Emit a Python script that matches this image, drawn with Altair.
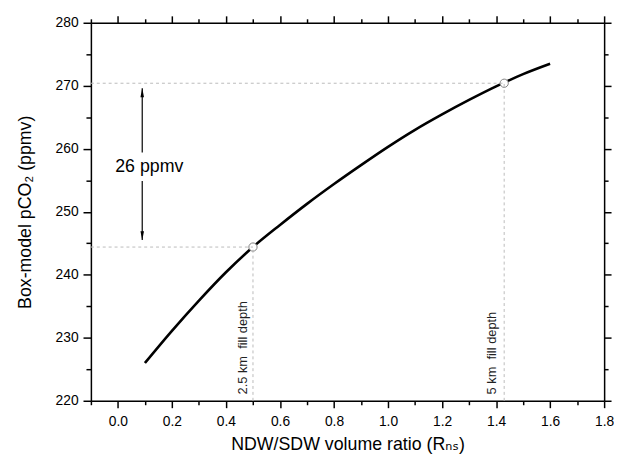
import altair as alt
import pandas as pd

FONT = "Liberation Sans, Arial, DejaVu Sans"

# Curve: NDW/SDW volume ratio vs box-model pCO2
ratio = [0.1, 0.2, 0.3, 0.4, 0.5, 0.6, 0.7, 0.8, 0.9, 1.0, 1.1, 1.2, 1.3, 1.4, 1.5, 1.6]
pco2 = [226.0, 231.1, 235.9, 240.4, 244.4, 247.9, 251.25, 254.4, 257.4, 260.3,
        263.0, 265.45, 267.75, 269.9, 271.85, 273.5]

# Marked fill-depth points
fill_x = [0.5, 1.43]
fill_y = [244.4, 270.4]
fill_labels = ["2.5 km\u00a0 fill depth", "5 km\u00a0 fill depth"]
fill_label_x = [0.463, 1.384]
fill_label_y = [221.0, 221.0]

# Double arrow annotation (26 ppmv)
arrow_x = [0.09]
arrow_lo = [245.5, 259.4]
arrow_hi = [254.9, 269.6]
arrow_text = ["26 ppmv"]
arrow_text_x = [-0.01]
arrow_text_y = [257.1]

# Axes
x_domain = [-0.1, 1.8]
y_domain = [220, 280]
x_ticks = [-0.1, 0.0, 0.1, 0.2, 0.3, 0.4, 0.5, 0.6, 0.7, 0.8, 0.9, 1.0,
           1.1, 1.2, 1.3, 1.4, 1.5, 1.6, 1.7, 1.8]
y_ticks = [220, 225, 230, 235, 240, 245, 250, 255, 260, 265, 270, 275, 280]

W, H = 520, 383

x_major = "abs(round(datum.value*10)) % 2 === 0"
y_major = "datum.value % 10 === 0"

xs = alt.Scale(domain=x_domain, nice=False, zero=False)
ys = alt.Scale(domain=y_domain, nice=False, zero=False)

common = dict(domainColor="black", domainWidth=1.5, tickColor="black", tickWidth=1.5,
              grid=False, labelFont=FONT, labelFontSize=14, labelColor="black",
              titleFont=FONT, titleFontSize=18, titleFontWeight="normal", titleColor="black")

x_bottom = alt.Axis(orient="bottom", values=x_ticks,
                    labelExpr=f"{x_major} ? format(datum.value, '.1f') : ''",
                    tickSize={"condition": {"test": x_major, "value": 7}, "value": 4},
                    labelPadding=7, title="NDW/SDW volume ratio (R\u2099\u209b)",
                    titleX=W / 2, titleY=49, titleBaseline="alphabetic", titleAlign="center",
                    labelFlush=False, labelOverlap=False, **common)
y_left = alt.Axis(orient="left", values=y_ticks,
                  labelExpr=f"{y_major} ? datum.label : ''",
                  tickSize={"condition": {"test": y_major, "value": 8}, "value": 5},
                  labelPadding=5, title="Box-model pCO\u2082 (ppmv)",
                  titleX=-66, titleY=H / 2, titleAngle=270, titleAlign="center",
                  titleBaseline="middle", labelFlush=False, labelOverlap=False, **common)
x_top = alt.Axis(orient="top", values=x_ticks, labels=False, title=None,
                 tickSize={"condition": {"test": x_major, "value": 7}, "value": 4}, **common)
y_right = alt.Axis(orient="right", values=y_ticks, labels=False, title=None,
                   tickSize={"condition": {"test": y_major, "value": 7}, "value": 4}, **common)

curve_df = pd.DataFrame({"ratio": ratio, "pco2": pco2})
fill_df = pd.DataFrame({"x": fill_x, "y": fill_y, "x0": [x_domain[0]] * 2,
                        "y0": [y_domain[0]] * 2, "label": fill_labels,
                        "lx": fill_label_x, "ly": fill_label_y})
arrow_df = pd.DataFrame({"x": arrow_x * 2, "lo": arrow_lo, "hi": arrow_hi})
head_df = pd.DataFrame({"x": arrow_x * 2, "y": [arrow_lo[0], arrow_hi[1]],
                        "shape": ["M0,0L0.4,-2L-0.4,-2Z", "M0,0L0.4,2L-0.4,2Z"]})
text_df = pd.DataFrame({"x": arrow_text_x, "y": arrow_text_y, "t": arrow_text})

curve = alt.Chart(curve_df).mark_line(color="black", strokeWidth=2.6, interpolate="monotone").encode(
    x=alt.X("ratio:Q", scale=xs, axis=x_bottom),
    y=alt.Y("pco2:Q", scale=ys, axis=y_left),
)

hrule = alt.Chart(fill_df).mark_rule(color="#bbbbbb", strokeWidth=1, strokeDash=[3, 3]).encode(
    x=alt.X("x0:Q", scale=xs, axis=None), x2="x",
    y=alt.Y("y:Q", scale=ys, axis=None),
)
vrule = alt.Chart(fill_df).mark_rule(color="#bbbbbb", strokeWidth=1, strokeDash=[3, 3]).encode(
    x=alt.X("x:Q", scale=xs, axis=None),
    y=alt.Y("y0:Q", scale=ys, axis=None), y2="y",
)
pts = alt.Chart(fill_df).mark_point(filled=True, fill="white", stroke="#808080",
                                    strokeWidth=1, size=70, opacity=1).encode(
    x=alt.X("x:Q", scale=xs, axis=x_top),
    y=alt.Y("y:Q", scale=ys, axis=y_right),
)
labels = alt.Chart(fill_df).mark_text(angle=270, align="left", baseline="middle",
                                      font=FONT, fontSize=13, color="#222222").encode(
    x=alt.X("lx:Q", scale=xs, axis=None),
    y=alt.Y("ly:Q", scale=ys, axis=None),
    text="label:N",
)
arrow = alt.Chart(arrow_df).mark_rule(color="black", strokeWidth=1.2).encode(
    x=alt.X("x:Q", scale=xs, axis=None),
    y=alt.Y("lo:Q", scale=ys, axis=None), y2="hi",
)
heads = alt.Chart(head_df).mark_point(filled=True, color="black", size=81, opacity=1).encode(
    x=alt.X("x:Q", scale=xs, axis=None),
    y=alt.Y("y:Q", scale=ys, axis=None),
    shape=alt.Shape("shape:N", scale=None),
)
atext = alt.Chart(text_df).mark_text(align="left", baseline="middle", font=FONT,
                                     fontSize=18, color="black").encode(
    x=alt.X("x:Q", scale=xs, axis=None),
    y=alt.Y("y:Q", scale=ys, axis=None),
    text="t:N",
)

chart = alt.layer(curve, pts, hrule, vrule, labels, arrow, heads, atext).resolve_axis(
    x="independent", y="independent"
).properties(
    width=W, height=H, autosize="none",
    padding={"left": 84, "top": 12, "right": 10, "bottom": 53},
).configure_view(stroke=None).configure(background="white")

chart.save("out.html", embed_options={"renderer": "svg", "actions": False})
